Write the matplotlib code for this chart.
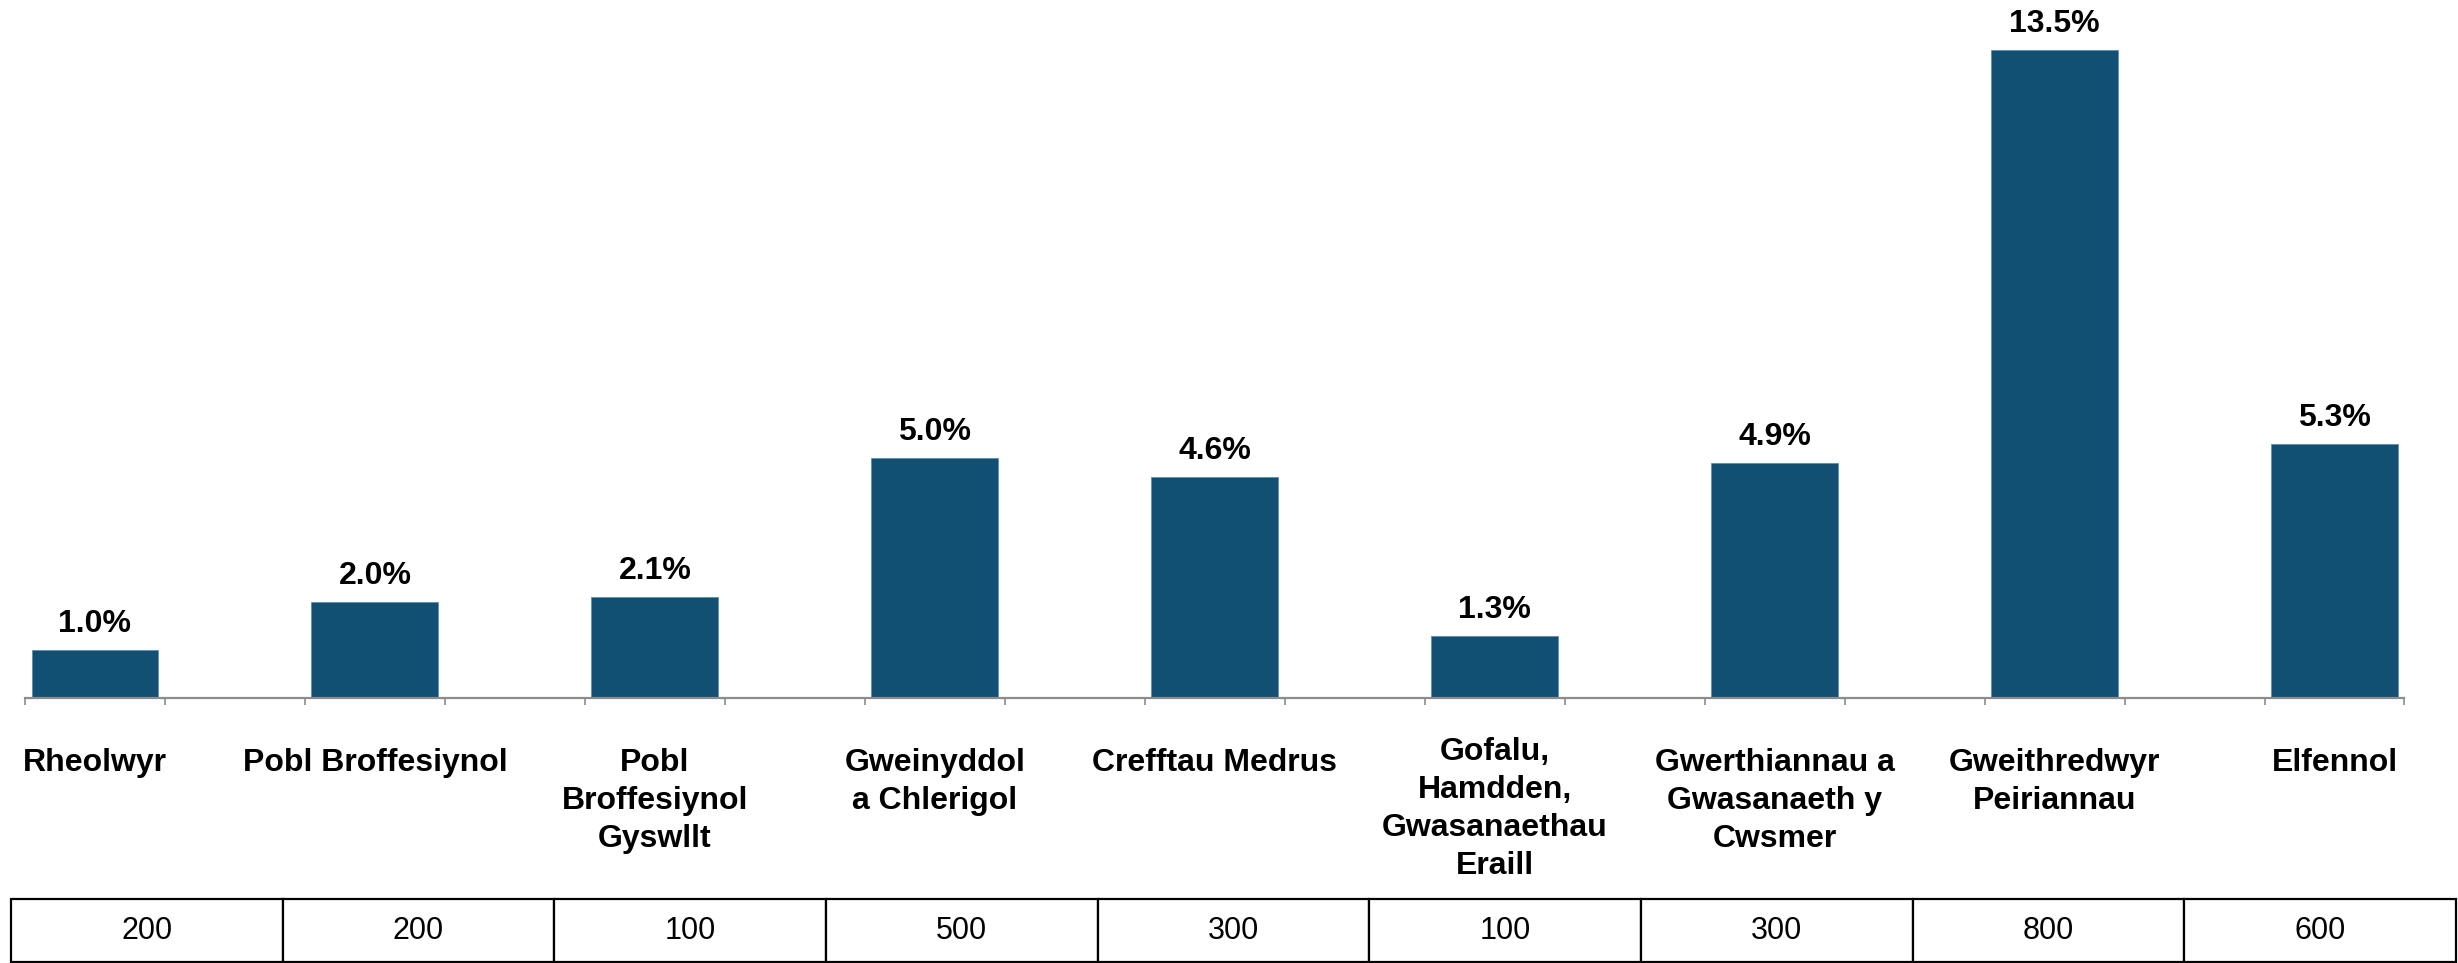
import matplotlib
matplotlib.use("Agg")
import matplotlib.pyplot as plt
import matplotlib.transforms as mtransforms
import numpy as np

plt.rcParams['font.family'] = ['Liberation Sans', 'DejaVu Sans']

# data
categories = ["Rheolwyr", "Pobl Broffesiynol", "Pobl\nBroffesiynol\nGyswllt",
              "Gweinyddol\na Chlerigol", "Crefftau Medrus",
              "Gofalu,\nHamdden,\nGwasanaethau\nEraill",
              "Gwerthiannau a\nGwasanaeth y\nCwsmer",
              "Gweithredwyr\nPeiriannau", "Elfennol"]
shares = [1.0, 2.0, 2.1, 5.0, 4.6, 1.3, 4.9, 13.5, 5.3]
counts = ["200", "200", "100", "500", "300", "100", "300", "800", "600"]

W, H = 2458, 963
bar_color = '#114F73'
axis_grey = '#8C8C8C'

fig = plt.figure(figsize=(W / 100, H / 100), dpi=100, facecolor='white')

# chart axes: 17 slots, bars sit in every other slot
ax = fig.add_axes([25 / W, (H - 698) / H, 2379.5 / W, 698 / H])
x = np.arange(len(shares)) * 2
ax.bar(x, shares, width=0.907, color=bar_color, edgecolor='#5E8CB0', linewidth=0.6)
ax.set_xlim(-0.5, 2 * len(shares) - 1.5)
ax.set_ylim(0, 13.5 * 698 / 648)

for side in ['top', 'right', 'left']:
    ax.spines[side].set_visible(False)
ax.spines['bottom'].set_color(axis_grey)
ax.spines['bottom'].set_linewidth(1.6)
ax.set_yticks([])
ax.set_xticks(np.arange(-0.5, 2 * len(shares) - 1, 1.0))
ax.tick_params(axis='x', direction='out', length=5, width=1.2, color=axis_grey,
               labelbottom=False)

for xi, v in zip(x, shares):
    ax.annotate(f"{v:.1f}%", (xi, v), xytext=(0, 13), textcoords='offset points',
                ha='center', va='baseline', fontsize=23, fontweight='bold',
                annotation_clip=False)

# category labels under the axis
trans = mtransforms.blended_transform_factory(ax.transData, fig.transFigure)
for xi, lab in zip(x, categories):
    top = 737 if lab.count('\n') >= 3 else 748
    ax.text(xi, 1 - top / H, lab, transform=trans, ha='center', va='top',
            fontsize=23, fontweight='bold', linespacing=1.35, multialignment='center')

# one-row table of counts
tax = fig.add_axes([11 / W, 1 / H, 2445 / W, 63 / H])
tax.axis('off')
tbl = tax.table(cellText=[counts], cellLoc='center', bbox=[0, 0, 1, 1])
tbl.auto_set_font_size(False)
tbl.set_fontsize(22)
for cell in tbl.get_celld().values():
    cell.set_linewidth(1.6)
    cell.set_edgecolor('black')

fig.savefig('out.png', dpi=100, facecolor='white')
